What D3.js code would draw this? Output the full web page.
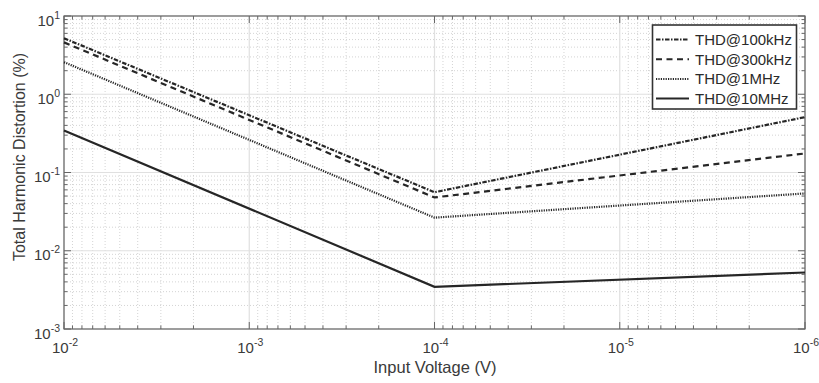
<!DOCTYPE html>
<html><head><meta charset="utf-8">
<script src="https://cdnjs.cloudflare.com/ajax/libs/d3/7.8.5/d3.min.js"></script>
<style>
html,body{margin:0;padding:0;background:#fff;}
svg{display:block;font-family:"Liberation Sans",Arial,sans-serif;}
</style></head>
<body><svg id="chart" width="819" height="383"></svg>
<script>
const voltages = [1e-2, 1e-4, 1e-6];
const seriesNames = ["THD@100kHz", "THD@300kHz", "THD@1MHz", "THD@10MHz"];
const thd100k = [5.2, 0.056, 0.51];
const thd300k = [4.6, 0.048, 0.175];
const thd1M = [2.57, 0.0265, 0.054];
const thd10M = [0.345, 0.00346, 0.00527];
const xTickValues = [1e-2, 1e-3, 1e-4, 1e-5, 1e-6];
const yTickValues = [1e-3, 1e-2, 1e-1, 1e0, 1e1];
const dashes = ["4.5,1.5,1.5,1.5", "6,4.5", "1.2,1.2", null];

const svg = d3.select("#chart");
const L = 64, R = 805, T = 16, B = 329;
const x = d3.scaleLog().domain([1e-2, 1e-6]).range([L, R]);
const y = d3.scaleLog().domain([1e-3, 1e1]).range([B, T]);

const xMinor = [], yMinor = [];
for (let e = -6; e < -2; e++) for (let m = 2; m <= 9; m++) xMinor.push(m * Math.pow(10, e));
for (let e = -3; e < 1; e++) for (let m = 2; m <= 9; m++) yMinor.push(m * Math.pow(10, e));

const g = svg.append("g");
g.selectAll(".xmg").data(xMinor).join("line")
  .attr("x1", d => x(d)).attr("x2", d => x(d)).attr("y1", T).attr("y2", B)
  .attr("stroke", "#d4d4d4").attr("stroke-width", 1).attr("stroke-dasharray", "1,2");
g.selectAll(".ymg").data(yMinor).join("line")
  .attr("y1", d => y(d)).attr("y2", d => y(d)).attr("x1", L).attr("x2", R)
  .attr("stroke", "#d4d4d4").attr("stroke-width", 1).attr("stroke-dasharray", "1,2");
g.selectAll(".xg").data(xTickValues).join("line")
  .attr("x1", d => x(d)).attr("x2", d => x(d)).attr("y1", T).attr("y2", B)
  .attr("stroke", "#e0e0e0").attr("stroke-width", 1.2);
g.selectAll(".yg").data(yTickValues).join("line")
  .attr("y1", d => y(d)).attr("y2", d => y(d)).attr("x1", L).attr("x2", R)
  .attr("stroke", "#e0e0e0").attr("stroke-width", 1.2);

const axc = "#666";
function tick(sel, data, len, horiz) {
  data.forEach(d => {
    if (horiz) {
      sel.append("line").attr("x1", x(d)).attr("x2", x(d)).attr("y1", B).attr("y2", B - len).attr("stroke", axc);
      sel.append("line").attr("x1", x(d)).attr("x2", x(d)).attr("y1", T).attr("y2", T + len).attr("stroke", axc);
    } else {
      sel.append("line").attr("y1", y(d)).attr("y2", y(d)).attr("x1", L).attr("x2", L + len).attr("stroke", axc);
      sel.append("line").attr("y1", y(d)).attr("y2", y(d)).attr("x1", R).attr("x2", R - len).attr("stroke", axc);
    }
  });
}
const tg = svg.append("g");
tick(tg, xTickValues, 7, true);
tick(tg, xMinor, 3.5, true);
tick(tg, yTickValues, 7, false);
tick(tg, yMinor, 3.5, false);

svg.append("rect").attr("x", L).attr("y", T).attr("width", R - L).attr("height", B - T)
  .attr("fill", "none").attr("stroke", axc).attr("stroke-width", 1.2);

const expo = d => Math.round(Math.log10(d));
xTickValues.forEach(d => {
  const t = svg.append("text").attr("x", x(d) + 1).attr("y", 353).attr("text-anchor", "middle")
    .attr("fill", "#3a3a3a").attr("font-size", 15);
  t.append("tspan").text("10");
  t.append("tspan").attr("dy", -7).attr("font-size", 10.5).text(expo(d));
});
yTickValues.forEach(d => {
  const t = svg.append("text").attr("x", 60).attr("y", y(d) + 9.5).attr("text-anchor", "end")
    .attr("fill", "#3a3a3a").attr("font-size", 15);
  t.append("tspan").text("10");
  t.append("tspan").attr("dy", -7).attr("font-size", 10.5).text(expo(d));
});

svg.append("text").attr("x", 435).attr("y", 373).attr("text-anchor", "middle")
  .attr("font-size", 16.5).attr("fill", "#3a3a3a").text("Input Voltage (V)");
svg.append("text").attr("transform", `translate(25,157) rotate(-90)`)
  .attr("text-anchor", "middle").attr("font-size", 16).attr("fill", "#3a3a3a")
  .text("Total Harmonic Distortion (%)");

const allSeries = [thd100k, thd300k, thd1M, thd10M];
const line = d3.line().x((d, i) => x(voltages[i])).y(d => y(d));
allSeries.forEach((s, i) => {
  svg.append("path").datum(s).attr("d", line).attr("fill", "none")
    .attr("stroke", "#262626").attr("stroke-width", 2.2)
    .attr("stroke-dasharray", dashes[i]);
});

const lg = svg.append("g");
lg.append("rect").attr("x", 652.5).attr("y", 25).attr("width", 144).attr("height", 84)
  .attr("fill", "#fff").attr("stroke", "#333").attr("stroke-width", 1.6);
seriesNames.forEach((n, i) => {
  const yy = 39.5 + i * 19.7;
  lg.append("line").attr("x1", 656).attr("x2", 689).attr("y1", yy).attr("y2", yy)
    .attr("stroke", "#262626").attr("stroke-width", 2).attr("stroke-dasharray", dashes[i]);
  lg.append("text").attr("x", 695).attr("y", yy + 5.3).attr("font-size", 15).attr("fill", "#2a2a2a").text(n);
});
</script></body></html>
